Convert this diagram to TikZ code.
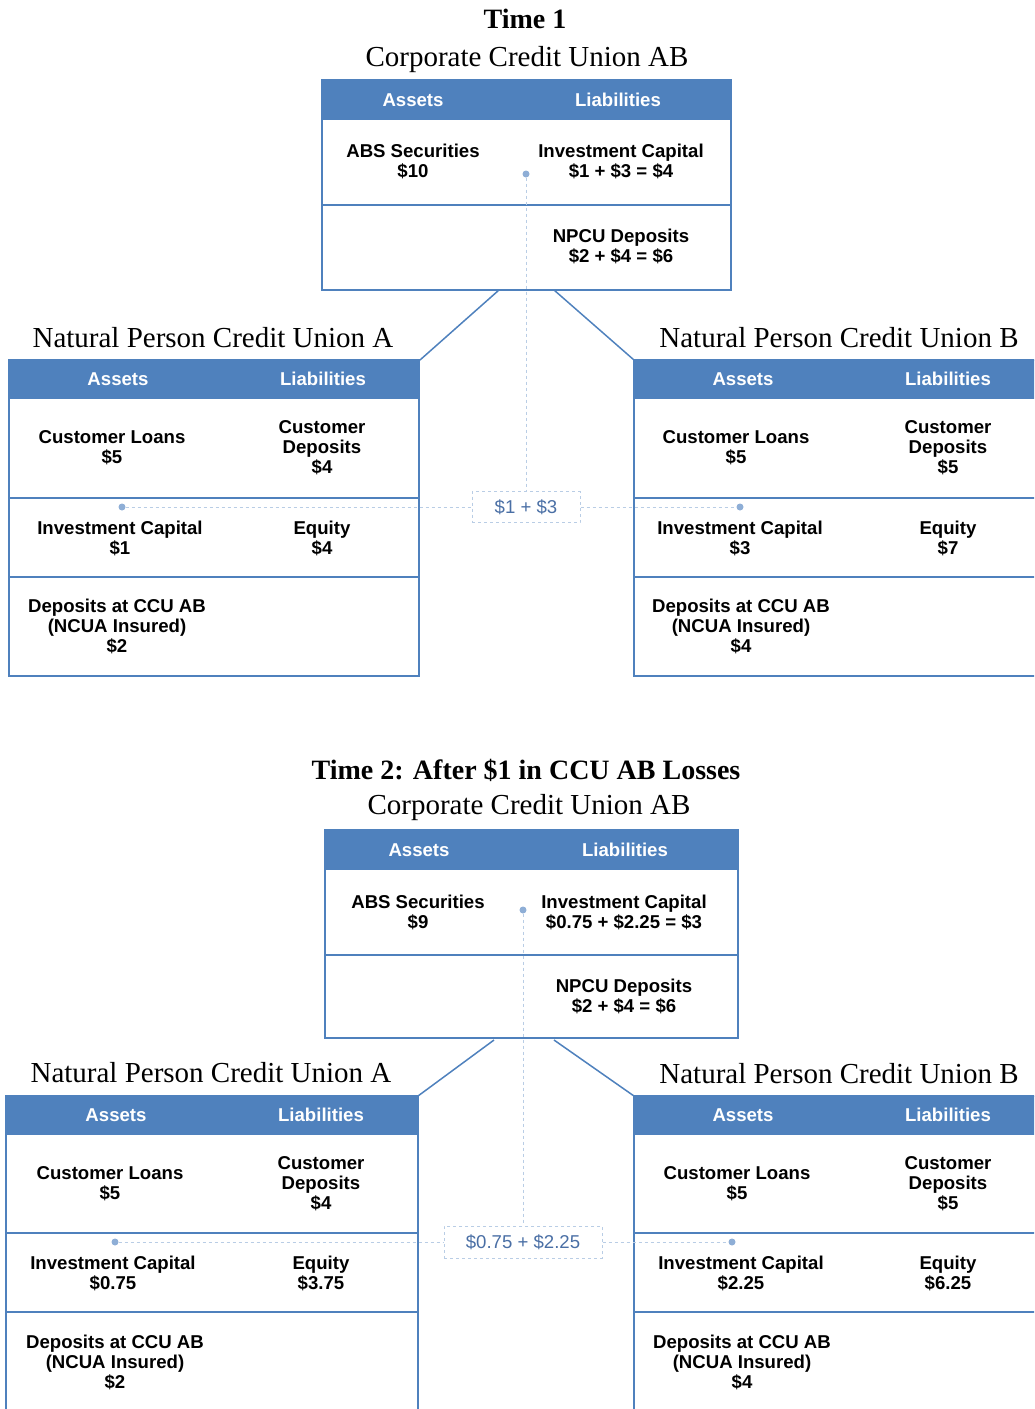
\documentclass[tikz,border=0pt]{standalone}
\usepackage{fontspec}
\setmainfont{Liberation Serif}
\setsansfont{Liberation Sans}
\usepackage{xcolor}
\usepackage{tikz}
\usetikzlibrary{positioning}
\definecolor{ccblue}{HTML}{4F81BD}
\definecolor{linkblue}{HTML}{B9CDE5}
\definecolor{dotblue}{HTML}{8EAED6}
\definecolor{sumtext}{HTML}{4A6FA5}

\begin{document}
\begin{tikzpicture}[
		x=1pt, y=-1pt,
		title/.style={font=\fontsize{29}{31}\selectfont},
		boldtitle/.style={font=\bfseries\fontsize{28}{30}\selectfont},
		cell/.style={align=center, inner sep=0pt, font=\sffamily\bfseries\fontsize{18.6}{20}\selectfont},
		headtext/.style={cell, text=white},
		panel/.style={draw=ccblue, line width=1.5pt},
		headband/.style={fill=ccblue},
		branch/.style={draw=ccblue, line width=1.5pt},
		link/.style={draw=linkblue, dashed, line width=1pt},
		linkdot/.style={circle, fill=dotblue, inner sep=0pt, minimum size=7pt},
		sumbox/.style={draw=linkblue, dashed, line width=1pt, fill=white, text=sumtext, font=\sffamily\fontsize{18.6}{20}\selectfont}
		]
		\useasboundingbox (0,0) rectangle (1034,1409);
		\clip (0,0) rectangle (1034,1409);
		
		% Time 1
		\node[boldtitle] (time1) at (525,19) {Time 1};
		\node[title] (ccu1title) at (527,60) {Corporate Credit Union AB};
		\node[title] (npcua1title) at (213,338) {Natural Person Credit Union A};
		\node[title] (npcub1title) at (839,338) {Natural Person Credit Union B};
		
		\fill[headband] (322,80) rectangle (731,120);
		\fill[headband] (9,360) rectangle (419,399);
		\fill[headband] (634,360) rectangle (1040,399);
		\draw[panel] (322,80) rectangle (731,290);
		\draw[panel] (322,205) -- (731,205);
		\draw[panel] (9,360) rectangle (419,676);
		\draw[panel] (9,498) -- (419,498) (9,577) -- (419,577);
		\draw[panel] (634,360) rectangle (1040,676);
		\draw[panel] (634,498) -- (1040,498) (634,577) -- (1040,577);
		
		\coordinate (ccu1l) at (499,290);
		\coordinate (ccu1r) at (554,290);
		\coordinate (npcua1) at (420,360);
		\coordinate (npcub1) at (634,360);
		\draw[branch] (ccu1l) -- (npcua1);
		\draw[branch] (ccu1r) -- (npcub1);
		
		\node[headtext] (ccu1as) at (413,100) {Assets};
		\node[headtext] (ccu1li) at (618,100) {Liabilities};
		\node[cell] (abs1) at (413,161) {ABS Securities\\\$10};
		\node[cell] (ccuinv1) at (621,161) {Investment Capital\\\$1 + \$3 = \$4};
		\node[cell] (ccudep1) at (621,246) {NPCU Deposits\\\$2 + \$4 = \$6};
		
		\node[headtext] (a1as) at (118,379) {Assets};
		\node[headtext] (a1li) at (323,379) {Liabilities};
		\node[cell] (a1loans) at (112,448) {Customer Loans\\\$5};
		\node[cell] (a1dep) at (322,448) {Customer\\Deposits\\\$4};
		\node[cell] (a1inv) at (120,538) {Investment Capital\\\$1};
		\node[cell] (a1eq) at (322,538) {Equity\\\$4};
		\node[cell] (a1ccu) at (117,626) {Deposits at CCU AB\\(NCUA Insured)\\\$2};
		
		\node[headtext] (b1as) at (743,379) {Assets};
		\node[headtext] (b1li) at (948,379) {Liabilities};
		\node[cell] (b1loans) at (736,448) {Customer Loans\\\$5};
		\node[cell] (b1dep) at (948,448) {Customer\\Deposits\\\$5};
		\node[cell] (b1inv) at (740,538) {Investment Capital\\\$3};
		\node[cell] (b1eq) at (948,538) {Equity\\\$7};
		\node[cell] (b1ccu) at (741,626) {Deposits at CCU AB\\(NCUA Insured)\\\$4};
		
		\node[linkdot] (d1top) at (526,174) {};
		\node[linkdot] (d1left) at (122,507) {};
		\node[linkdot] (d1right) at (740,507) {};
		\node[sumbox, minimum width=108pt, minimum height=31pt] (sum1) at (526,507) {\$1 + \$3};
		\draw[link] (d1top) -- (sum1);
		\draw[link] (d1left) -- (sum1);
		\draw[link] (sum1) -- (d1right);
		
		% Time 2
		\node[boldtitle] (time2) at (526,770) {Time 2: After \$1 in CCU AB Losses};
		\node[title] (ccu2title) at (529,808) {Corporate Credit Union AB};
		\node[title] (npcua2title) at (211,1073) {Natural Person Credit Union A};
		\node[title] (npcub2title) at (839,1074) {Natural Person Credit Union B};
		
		\fill[headband] (325,830) rectangle (738,870);
		\fill[headband] (6,1096) rectangle (418,1135);
		\fill[headband] (634,1096) rectangle (1040,1135);
		\draw[panel] (325,830) rectangle (738,1038);
		\draw[panel] (325,955) -- (738,955);
		\draw[panel] (6,1096) rectangle (418,1420);
		\draw[panel] (6,1233) -- (418,1233) (6,1312) -- (418,1312);
		\draw[panel] (634,1096) rectangle (1040,1420);
		\draw[panel] (634,1233) -- (1040,1233) (634,1312) -- (1040,1312);
		
		\coordinate (ccu2l) at (494,1040);
		\coordinate (ccu2r) at (554,1040);
		\coordinate (npcua2) at (418,1096);
		\coordinate (npcub2) at (634,1096);
		\draw[branch] (ccu2l) -- (npcua2);
		\draw[branch] (ccu2r) -- (npcub2);
		
		\node[headtext] (ccu2as) at (419,850) {Assets};
		\node[headtext] (ccu2li) at (625,850) {Liabilities};
		\node[cell] (abs2) at (418,912) {ABS Securities\\\$9};
		\node[cell] (ccuinv2) at (624,912) {Investment Capital\\\$0.75 + \$2.25 = \$3};
		\node[cell] (ccudep2) at (624,996) {NPCU Deposits\\\$2 + \$4 = \$6};
		
		\node[headtext] (a2as) at (116,1115) {Assets};
		\node[headtext] (a2li) at (321,1115) {Liabilities};
		\node[cell] (a2loans) at (110,1184) {Customer Loans\\\$5};
		\node[cell] (a2dep) at (321,1184) {Customer\\Deposits\\\$4};
		\node[cell] (a2inv) at (113,1273) {Investment Capital\\\$0.75};
		\node[cell] (a2eq) at (321,1273) {Equity\\\$3.75};
		\node[cell] (a2ccu) at (115,1362) {Deposits at CCU AB\\(NCUA Insured)\\\$2};
		
		\node[headtext] (b2as) at (743,1115) {Assets};
		\node[headtext] (b2li) at (948,1115) {Liabilities};
		\node[cell] (b2loans) at (737,1184) {Customer Loans\\\$5};
		\node[cell] (b2dep) at (948,1184) {Customer\\Deposits\\\$5};
		\node[cell] (b2inv) at (741,1273) {Investment Capital\\\$2.25};
		\node[cell] (b2eq) at (948,1273) {Equity\\\$6.25};
		\node[cell] (b2ccu) at (742,1362) {Deposits at CCU AB\\(NCUA Insured)\\\$4};
		
		\node[linkdot] (d2top) at (523,910) {};
		\node[linkdot] (d2left) at (115,1242) {};
		\node[linkdot] (d2right) at (732,1242) {};
		\node[sumbox, minimum width=158pt, minimum height=32pt] (sum2) at (523,1242) {\$0.75 + \$2.25};
		\draw[link] (d2top) -- (sum2);
		\draw[link] (d2left) -- (sum2);
		\draw[link] (sum2) -- (d2right);
	\end{tikzpicture}
\end{document}
